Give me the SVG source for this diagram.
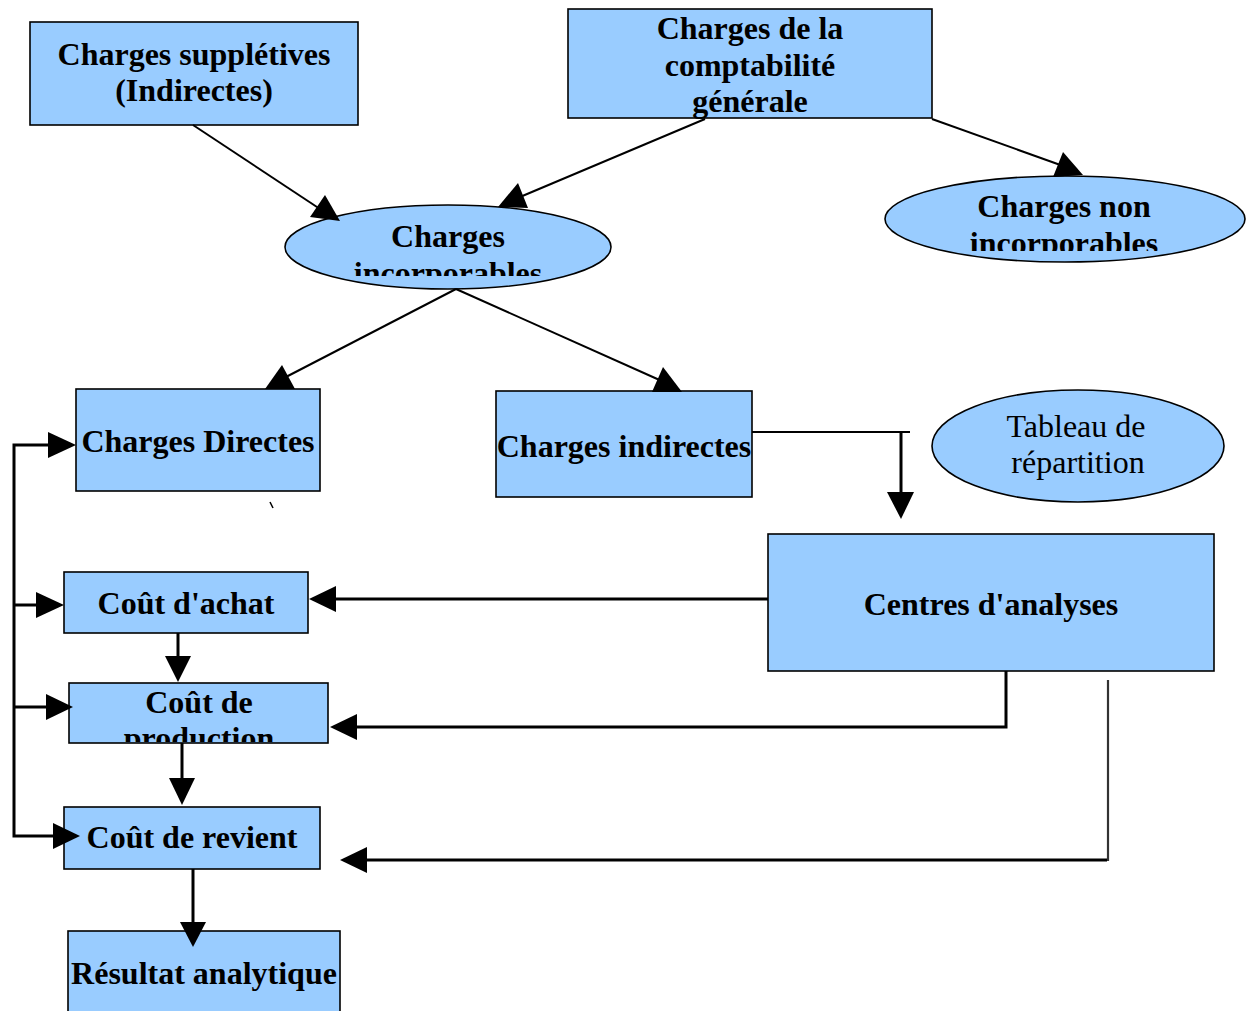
<svg xmlns="http://www.w3.org/2000/svg" width="1251" height="1011" viewBox="0 0 1251 1011">
  <style>
    .box { fill: #99ccff; stroke: #000; stroke-width: 1.6; }
    .lbl { font-family: "Liberation Serif", "Times New Roman", serif; font-weight: bold; font-size: 32px; fill: #000; text-anchor: middle; }
    .plain { font-family: "Liberation Serif", "Times New Roman", serif; font-size: 32px; fill: #000; text-anchor: middle; }
    .thin { fill: none; stroke: #000; stroke-width: 2; }
    .thick { fill: none; stroke: #000; stroke-width: 3; }
    .head { fill: #000; stroke: none; }
  </style>
  <defs>
    <clipPath id="clipIncorp"><rect x="280" y="190" width="340" height="86"/></clipPath>
    <clipPath id="clipNonIncorp"><rect x="880" y="170" width="370" height="81"/></clipPath>
    <clipPath id="clipProd"><rect x="69" y="683" width="259" height="59"/></clipPath>
  </defs>

  <rect width="1251" height="1011" fill="#fff"/>

  <g id="n-suppletives">
    <rect class="box" x="30" y="22" width="328" height="103"/>
    <text class="lbl" x="194" y="65">Charges supplétives</text>
    <text class="lbl" x="194" y="101">(Indirectes)</text>
  </g>

  <g id="n-comptabilite">
    <rect class="box" x="568" y="9" width="364" height="109"/>
    <text class="lbl" x="750" y="39">Charges de la</text>
    <text class="lbl" x="750" y="76">comptabilité</text>
    <text class="lbl" x="750" y="112">générale</text>
  </g>

  <g id="n-incorporables">
    <ellipse class="box" cx="448" cy="247" rx="163" ry="42"/>
    <g clip-path="url(#clipIncorp)">
      <text class="lbl" x="448" y="247">Charges</text>
      <text class="lbl" x="448" y="284">incorporables</text>
    </g>
  </g>

  <g id="n-non-incorporables">
    <ellipse class="box" cx="1065" cy="219" rx="180" ry="43"/>
    <g clip-path="url(#clipNonIncorp)">
      <text class="lbl" x="1064" y="217">Charges non</text>
      <text class="lbl" x="1064" y="254">incorporables</text>
    </g>
  </g>

  <g id="n-directes">
    <rect class="box" x="76" y="389" width="244" height="102"/>
    <text class="lbl" x="198" y="452">Charges Directes</text>
  </g>

  <g id="n-indirectes">
    <rect class="box" x="496" y="391" width="256" height="106"/>
    <text class="lbl" x="624" y="457">Charges indirectes</text>
  </g>

  <g id="n-tableau">
    <ellipse class="box" cx="1078" cy="446" rx="146" ry="56"/>
    <text class="plain" x="1076" y="437">Tableau de</text>
    <text class="plain" x="1078" y="473">répartition</text>
  </g>

  <g id="n-centres">
    <rect class="box" x="768" y="534" width="446" height="137"/>
    <text class="lbl" x="991" y="615">Centres d'analyses</text>
  </g>

  <g id="n-achat">
    <rect class="box" x="64" y="572" width="244" height="61"/>
    <text class="lbl" x="186" y="614">Coût d'achat</text>
  </g>

  <g id="n-production">
    <rect class="box" x="69" y="683" width="259" height="60"/>
    <g clip-path="url(#clipProd)">
      <text class="lbl" x="199" y="713">Coût de</text>
      <text class="lbl" x="199" y="749">production</text>
    </g>
  </g>

  <g id="n-revient">
    <rect class="box" x="64" y="807" width="256" height="62"/>
    <text class="lbl" x="192" y="848">Coût de revient</text>
  </g>

  <g id="n-resultat">
    <rect class="box" x="68" y="931" width="272" height="90"/>
    <text class="lbl" x="204" y="984">Résultat analytique</text>
  </g>

  <!-- connectors, drawn last so heads sit over the boxes -->
  <g id="connectors">
    <!-- upper diagonal links -->
    <line class="thin" x1="193" y1="125" x2="320" y2="209"/>
    <polygon class="head" points="325,195 310,217 340,221"/>
    <line class="thin" x1="705" y1="119" x2="520" y2="197"/>
    <polygon class="head" points="518,183 498,207 528,208"/>
    <line class="thin" x1="932" y1="119" x2="1066" y2="167"/>
    <polygon class="head" points="1063,152 1053,177 1083,175"/>
    <line class="thin" x1="456" y1="289" x2="284" y2="378"/>
    <polygon class="head" points="282,365 265,389 295,389"/>
    <line class="thin" x1="456" y1="289" x2="664" y2="382"/>
    <polygon class="head" points="663,367 652,392 682,392"/>

    <!-- charges indirectes to centres d'analyses -->
    <line class="thin" x1="752" y1="432" x2="910" y2="432"/>
    <line class="thick" x1="901" y1="432" x2="901" y2="493"/>
    <polygon class="head" points="887,492 914,492 901,519"/>

    <!-- centres d'analyses to the cost boxes -->
    <line class="thick" x1="768" y1="599" x2="334" y2="599"/>
    <polygon class="head" points="309,599 336,586 336,612"/>
    <polyline class="thick" points="1006,671 1006,727 355,727"/>
    <polygon class="head" points="330,727 357,714 357,740"/>
    <line x1="1108" y1="680" x2="1108" y2="861" stroke="#333" stroke-width="2.2"/>
    <line class="thick" x1="1107" y1="860" x2="365" y2="860"/>
    <polygon class="head" points="340,860 367,847 367,873"/>

    <!-- left bus -->
    <polyline class="thick" points="50,445 14,445 14,836 55,836"/>
    <line class="thick" x1="14" y1="605" x2="38" y2="605"/>
    <line class="thick" x1="14" y1="707" x2="48" y2="707"/>
    <polygon class="head" points="76,445 48,432 48,458"/>
    <polygon class="head" points="64,605 36,592 36,618"/>
    <polygon class="head" points="73,707 46,694 46,720"/>
    <polygon class="head" points="80,836 53,823 53,849"/>

    <!-- vertical cost chain -->
    <line class="thick" x1="178" y1="633" x2="178" y2="658"/>
    <polygon class="head" points="165,656 191,656 178,682"/>
    <line class="thick" x1="182" y1="743" x2="182" y2="780"/>
    <polygon class="head" points="169,778 195,778 182,805"/>
    <line class="thick" x1="193" y1="869" x2="193" y2="924"/>
    <polygon class="head" points="180,922 206,922 193,947"/>

    <!-- small stray stroke under Charges Directes -->
    <line x1="270" y1="502" x2="273" y2="508" stroke="#000" stroke-width="1.5"/>
  </g>
</svg>
